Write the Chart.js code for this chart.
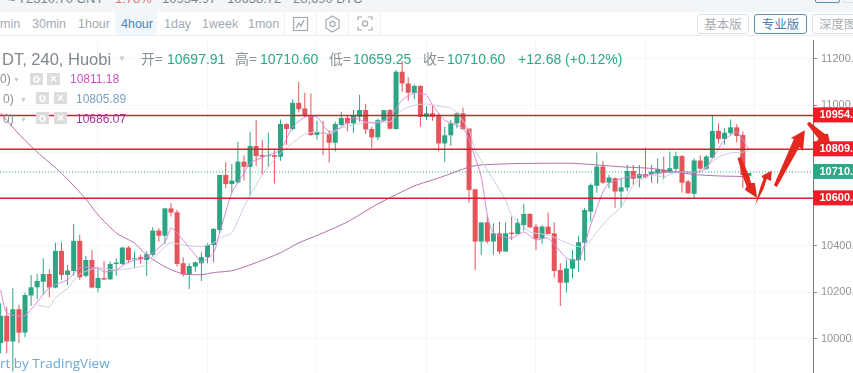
<!DOCTYPE html>
<html>
<head>
<meta charset="utf-8">
<title>BTC/USDT 4hour</title>
<script src="https://cdn.jsdelivr.net/npm/chart.js@4"></script>
<style>
  html, body { margin: 0; padding: 0; background: #fff; overflow: hidden; }
  body { width: 853px; height: 373px; position: relative; font-family: "Liberation Sans", sans-serif; }
  canvas { position: absolute; left: 0; top: 0; }
  .t { position: absolute; white-space: nowrap; line-height: 1; }
  .topStrip { position: absolute; left: 0; top: 0; width: 853px; height: 12px; background: #f2f6f8; overflow: hidden; }
  .toolbar { position: absolute; left: 0; top: 12px; width: 853px; height: 23px; background: #fff; border-bottom: 1px solid #ebedef; }
  .tab { position: absolute; top: 18px; font: 12.5px "Liberation Sans", sans-serif; line-height: 1; color: #a3abb3; white-space: nowrap; }
  .sep { position: absolute; top: 11px; width: 1px; height: 24px; background: #eceef0; }
  .btn { position: absolute; top: 14px; height: 18px; border: 1px solid #dfe2e5; border-radius: 3px; box-sizing: content-box;
    font: 12.5px "Noto Sans CJK SC", sans-serif; line-height: 18px; color: #a9adb2; text-align: center; white-space: nowrap; overflow: hidden; }
  .sq { position: absolute; width: 13px; height: 12px; background: #dcdcdc; color: #fff; font: bold 12px/12px "Liberation Sans", sans-serif; text-align: center; }
  .num { font-size: 14px; color: #2ba886; top: 52px; }
  .lab { font: 14px "Noto Sans CJK SC", sans-serif; line-height: 1; color: #8a9097; top: 51px; }
  .leg { font-size: 12px; top: 0; }
</style>
</head>
<body>
<canvas id="chart" width="853" height="373"></canvas>

<div class="topStrip">
  <div class="t" style="left:8px;top:-8px;font-size:13px;color:#7d858c">≈ 72310.70 CNY</div>
  <div class="t" style="left:115px;top:-8px;font-size:13px;color:#e0777a">1.78%</div>
  <div class="t" style="left:162px;top:-8px;font-size:13px;color:#7d858c">10954.97</div>
  <div class="t" style="left:227px;top:-8px;font-size:13px;color:#7d858c">10638.72</div>
  <div class="t" style="left:293px;top:-8px;font-size:13px;color:#7d858c">28,690 BTC</div>
  <div style="position:absolute;left:815px;top:-6px;width:23px;height:7px;border:1px solid #5a8fb0;border-radius:2px"></div>
  <div style="position:absolute;left:843px;top:-6px;width:20px;height:7px;border:1px solid #dfe2e5;border-radius:2px"></div>
</div>
<div class="toolbar"></div>
<div style="position:absolute;left:115px;top:11px;width:42px;height:24px;background:#f1f6fb"></div>
<div class="tab" style="left:0">min</div>
<div class="tab" style="left:32px">30min</div>
<div class="tab" style="left:78px">1hour</div>
<div class="tab" style="left:121px;color:#4a86bd">4hour</div>
<div class="tab" style="left:164px">1day</div>
<div class="tab" style="left:202px">1week</div>
<div class="tab" style="left:248px">1mon</div>
<div class="sep" style="left:284px"></div>
<div class="sep" style="left:316px"></div>
<div class="sep" style="left:348px"></div>
<div class="sep" style="left:380px"></div>
<svg style="position:absolute;left:290px;top:14px" width="90" height="20" fill="none" stroke="#a4abb2" stroke-width="1.2">
  <rect x="3.5" y="3.5" width="14" height="13"/>
  <path d="M6 14 L9 9 L11 12 L14 6" stroke-width="1.4"/>
  <path d="M42.5 2 L49 6 L49 14 L42.5 18 L36 14 L36 6 Z"/>
  <circle cx="42.5" cy="10" r="2.6"/>
  <path d="M68 6 L68 3 L72 3 M78 3 L82 3 L82 6 M82 13 L82 16 L78 16 M72 16 L68 16 L68 13"/>
  <circle cx="75" cy="9.5" r="2.6"/>
</svg>
<div class="btn" style="left:697px;width:50px">基本版</div>
<div class="btn" style="left:754px;width:51px;border-color:#5a8fb0;color:#4a80b0">专业版</div>
<div class="btn" style="left:812px;width:50px;text-align:left;padding-left:6px;border-right:none">深度图</div>

<div class="t" style="left:2px;top:51px;font-size:16.5px;color:#80878e">DT, 240, Huobi</div>
<div class="t" style="left:118px;top:55px;font-size:8px;color:#c4c8cc">▼</div>
<div class="t lab" style="left:141px">开=</div>
<div class="t num" style="left:167px">10697.91</div>
<div class="t lab" style="left:235px">高=</div>
<div class="t num" style="left:260px">10710.60</div>
<div class="t lab" style="left:329px">低=</div>
<div class="t num" style="left:353px">10659.25</div>
<div class="t lab" style="left:423px">收=</div>
<div class="t num" style="left:447px">10710.60</div>
<div class="t num" style="left:518px">+12.68 (+0.12%)</div>

<div class="t leg" style="left:0;top:73px;color:#8a9097">0)</div>
<div class="t" style="left:13px;top:76px;font-size:7px;color:#c4c8cc">▼</div>
<div class="sq" style="left:30px;top:73px">o</div><div class="sq" style="left:47px;top:73px">×</div>
<div class="t leg" style="left:70px;top:73px;color:#d052c9">10811.18</div>
<div class="t leg" style="left:3px;top:93px;color:#8a9097">0)</div>
<div class="t" style="left:20px;top:96px;font-size:7px;color:#c4c8cc">▼</div>
<div class="sq" style="left:36px;top:92px">o</div><div class="sq" style="left:54px;top:92px">×</div>
<div class="t leg" style="left:76px;top:93px;color:#7b9fc0">10805.89</div>
<div class="t leg" style="left:3px;top:113px;color:#8a9097">0)</div>
<div class="t" style="left:20px;top:116px;font-size:7px;color:#c4c8cc">▼</div>
<div class="sq" style="left:36px;top:112px">o</div><div class="sq" style="left:54px;top:112px">×</div>
<div class="t leg" style="left:76px;top:113px;color:#a0359a">10686.07</div>

<div class="t" style="left:0;top:354px;font:13.5px 'Open Sans', sans-serif;color:#6aa9d8">rt by TradingView</div>

<script>
// candles
const opens = [9982,10099,9989,10127,10027,10186,10221,10245,10278,10220,10377,10274,10291,10420,10270,10338,10218,10260,10255,10321,
  10321,10391,10341,10350,10338,10360,10464,10442,10559,10542,10324,10278,10310,10324,10350,10402,10466,10702,10663,10670,
  10759,10737,10826,10787,10783,10787,10780,10920,10899,11011,10987,10954,10874,10884,10880,10840,10916,10946,10923,10951,
  10980,10899,10863,10934,10980,10899,11144,11094,11054,11083,10951,10966,10959,10837,10872,10923,10966,10901,10641,10417,
  10499,10417,10452,10374,10455,10449,10488,10535,10481,10429,10481,10452,10295,10241,10301,10338,10412,10545,10656,10738,
  10669,10688,10631,10648,10719,10688,10706,10706,10709,10724,10712,10728,10783,10674,10621,10764,10729,10776,10891,10856,
  10881,10906,10873,10697.91];
const closes = [10099,9989,10127,10027,10188,10221,10248,10278,10220,10377,10274,10293,10420,10264,10338,10220,10261,10254,10321,10327,
  10391,10338,10345,10341,10362,10464,10442,10559,10541,10321,10277,10312,10328,10350,10402,10471,10702,10663,10678,10759,
  10737,10826,10783,10780,10787,10780,10920,10899,11011,10984,10954,10873,10886,10880,10840,10920,10946,10923,10959,10980,
  10897,10863,10937,10980,10900,11144,11094,11054,11083,10951,10966,10951,10837,10872,10923,10966,10899,10638,10417,10499,
  10417,10452,10374,10452,10449,10498,10535,10478,10429,10481,10449,10291,10241,10302,10342,10414,10552,10659,10738,10669,
  10691,10631,10649,10719,10686,10706,10692,10716,10726,10712,10731,10783,10669,10624,10764,10729,10781,10891,10856,10883,
  10906,10869,10702,10710.60];
const highs = [10153,10138,10217,10146,10198,10274,10278,10345,10298,10412,10414,10317,10492,10445,10355,10381,10303,10334,10331,10345,
  10395,10398,10374,10360,10374,10478,10474,10559,10581,10552,10350,10324,10331,10371,10410,10474,10702,10755,10749,10844,
  10787,10887,10937,10852,10883,10809,10940,10923,11026,11100,11054,11051,10934,10934,10894,10930,10973,10959,10980,11046,
  11006,10909,10944,10980,10984,11151,11191,11120,11091,11086,10997,10997,10966,10909,10937,10973,10991,10901,10641,10499,
  10531,10495,10502,10498,10524,10516,10578,10538,10492,10488,10541,10498,10324,10341,10381,10442,10562,10666,10798,10762,
  10702,10691,10688,10745,10745,10745,10820,10745,10774,10781,10802,10802,10788,10681,10774,10785,10788,10955,10923,10902,
  10940,10919,10888,10710.60];
const lows = [9939,9939,9860,9982,10007,10141,10170,10188,10178,10217,10253,10231,10270,10253,10264,10217,10200,10253,10253,10270,
  10317,10324,10305,10321,10270,10352,10417,10405,10524,10310,10267,10214,10288,10248,10324,10327,10454,10645,10626,10666,
  10678,10612,10740,10702,10737,10666,10763,10830,10894,10969,10949,10870,10854,10787,10755,10802,10911,10889,10883,10930,
  10877,10819,10852,10930,10897,10897,11058,11020,11026,10909,10937,10934,10802,10759,10826,10902,10894,10583,10295,10360,
  10410,10360,10364,10372,10424,10449,10464,10474,10381,10407,10449,10263,10141,10200,10260,10288,10335,10502,10626,10663,
  10645,10562,10562,10631,10659,10649,10688,10669,10667,10684,10712,10709,10627,10621,10602,10724,10724,10776,10838,10831,
  10873,10841,10645,10659.25];

// moving averages, candle index and value as read
const ma5Index = [0,1,4,8,11,13,16,17,19,21,24,27,28,29,32,33,35,36,38,40,41,44,46,48,50,52,54,56,58,60,62,64,66,68,70,71,73,76,77,79,80,81,84,86,88,90,93,95,97,99,100,103,106,110,113,115,116,119,121,122,123];
const ma5Values = [10210,10112,10100,10220,10253,10304,10304,10287,10295,10329,10351,10415,10475,10454,10359,10329,10368,10454,10625,10710,10753,10787,10809,10907,10950,10950,10886,10907,10946,10929,10924,10950,11023,11053,11044,11001,10937,10903,10852,10693,10531,10454,10432,10458,10424,10432,10347,10338,10488,10629,10667,10693,10702,10715,10715,10715,10732,10852,10886,10852,10811];
const ma10Index = [6,8,9,11,13,16,19,24,27,28,30,33,35,36,38,40,43,46,48,50,52,54,56,59,62,64,66,68,70,73,74,75,77,78,80,83,84,87,90,94,96,98,100,102,104,105,107,109,111,114,116,118,120,122,123];
const ma10Values = [10145,10137,10177,10217,10278,10304,10295,10317,10395,10412,10402,10395,10411,10432,10454,10566,10702,10796,10839,10877,10887,10877,10903,10923,10930,10930,10980,11001,11006,10993,10989,10967,10894,10809,10723,10595,10531,10458,10445,10402,10394,10458,10518,10565,10659,10680,10702,10693,10715,10713,10736,10779,10796,10800,10806];
const ma30Index = [0,3,6,10,14,16,19,22,24,27,30,33,35,38,41,44,46,49,53,57,62,68,72,77,79,85,90,94,98,102,107,110,114,118,123];
const ma30Values = [10967,10877,10800,10710,10599,10531,10454,10410,10359,10309,10278,10275,10284,10292,10317,10347,10369,10411,10454,10501,10578,10655,10689,10736,10745,10751,10752,10752,10745,10737,10730,10719,10704,10698,10695];

// levels marked on the picture, and their tags on the axis
const resistHigh = 10957;
const resistLow = 10812;
const lastPrice = 10715;
const supportLevel = 10602;
const tagValues = [resistHigh, resistLow, lastPrice, supportLevel];
const tagTexts = ['10954.', '10809.', '10710.', '10600.'];
const tagColors = ['#ee1c25', '#ee1c25', '#2ba886', '#ee1c25'];

// hand drawn arrows, as candle index and price
const arrowOneIndex = [121.13,121.7,123.1,123.35,124,124.35,122.36,122.6,122.03];
const arrowOnePrice = [10775,10779,10693,10668,10668,10603,10638,10655,10693];
const arrowTwoIndex = [124.05,124.95,125.4,125.07,126.75,126.64,125.93,125.4];
const arrowTwoPrice = [10573,10655,10685,10698,10720,10676,10685,10642];
const arrowThreeIndex = [127.1,130.4,129.9,132.2,131.9,131.3,127.6];
const arrowThreePrice = [10658,10856,10860,10894,10805,10822,10650];
const arrowFourIndex = [132.9,135.5,136,136.3,134.03,134.45,132.55];
const arrowFourPrice = [10930,10877,10879,10843,10843,10856,10920];

const priceTicks = [10000,10200,10400,10600,10800,11000,11200];
const gridIndex = [7,25,43,61,79,97,115,133];

const UP = '#2ba583';
const DOWN = '#e4555b';
const LINE_RED = '#d4202f';
const xMin = -0.11;
const xMax = 133.54;

const candleColors = opens.map(function (o, i) { return closes[i] >= o ? UP : DOWN; });

function pairs(index, values) {
  return index.map(function (x, i) { return { x: x, y: values[i] }; });
}
function level(value) {
  return [{ x: xMin, y: value }, { x: xMax, y: value }];
}
function maLine(index, values, color, order) {
  return { type: 'line', data: pairs(index, values), borderColor: color, borderWidth: 1, pointRadius: 0, tension: 0.2, order: order };
}
function levelLine(value, color, width, dash, order) {
  return { type: 'line', data: level(value), borderColor: color, borderWidth: width, borderDash: dash, pointRadius: 0, order: order };
}

const overlay = {
  id: 'overlay',
  afterDatasetsDraw(chart) {
    const ctx = chart.ctx;
    const x = chart.scales.x;
    const y = chart.scales.y;
    ctx.save();
    // price tags on the axis
    tagValues.forEach(function (value, i) {
      const py = y.getPixelForValue(value);
      ctx.fillStyle = tagColors[i];
      ctx.fillRect(813, py - 8, 40, 15);
      ctx.fillStyle = '#fff';
      ctx.font = 'bold 11px "Liberation Sans", sans-serif';
      ctx.textBaseline = 'middle';
      ctx.fillText(tagTexts[i], 819.5, py);
    });
    // arrows on top
    const arrows = [[arrowOneIndex, arrowOnePrice], [arrowTwoIndex, arrowTwoPrice], [arrowThreeIndex, arrowThreePrice], [arrowFourIndex, arrowFourPrice]];
    ctx.fillStyle = '#e5281f';
    arrows.forEach(function (a) {
      ctx.beginPath();
      a[0].forEach(function (ix, i) {
        const px = x.getPixelForValue(ix);
        const py = y.getPixelForValue(a[1][i]);
        if (i === 0) ctx.moveTo(px, py); else ctx.lineTo(px, py);
      });
      ctx.closePath();
      ctx.fill();
    });
    ctx.restore();
  }
};

new Chart(document.getElementById('chart'), {
  type: 'bar',
  data: {
    datasets: [
      { data: highs.map(function (h, i) { return { x: i, y: [lows[i], h] }; }), backgroundColor: candleColors, barThickness: 1, grouped: false, order: 6, inflateAmount: 0 },
      { data: opens.map(function (o, i) { return { x: i, y: [o, closes[i]] }; }), backgroundColor: candleColors, barThickness: 5, grouped: false, order: 5, inflateAmount: 0 },
      maLine(ma30Index, ma30Values, '#b06ea8', 4),
      maLine(ma10Index, ma10Values, '#cfcbe2', 3),
      maLine(ma5Index, ma5Values, '#d88ada', 2),
      levelLine(lastPrice, '#2ba886', 1, [1, 2], 1),
      levelLine(resistHigh, LINE_RED, 1.5, [], 0),
      levelLine(resistLow, LINE_RED, 1.5, [], 0),
      levelLine(supportLevel, LINE_RED, 1.5, [], 0)
    ]
  },
  options: {
    responsive: false,
    animation: false,
    layout: { padding: { top: 40 } },
    plugins: { legend: { display: false }, tooltip: { enabled: false } },
    scales: {
      x: {
        type: 'linear',
        min: xMin,
        max: xMax,
        offset: false,
        afterBuildTicks: function (scale) { scale.ticks = gridIndex.map(function (v) { return { value: v }; }); },
        afterFit: function (scale) { scale.height = 0; scale.paddingLeft = 0; scale.paddingRight = 0; },
        ticks: { display: false },
        grid: { color: '#f5f6f6', drawTicks: false },
        border: { display: false }
      },
      y: {
        position: 'right',
        min: 9854,
        max: 11280,
        afterBuildTicks: function (scale) { scale.ticks = priceTicks.map(function (v) { return { value: v }; }); },
        // no room kept for half a label above and below, the axis runs to the window edge
        afterFit: function (scale) { scale.width = 40; scale.paddingTop = 0; scale.paddingBottom = 0; },
        ticks: {
          color: '#8f9499',
          font: { family: '"Liberation Sans", sans-serif', size: 11 },
          padding: 4,
          callback: function (v) { return v + '.'; }
        },
        grid: { color: '#f5f6f6', tickColor: '#8a8f94', tickLength: 4 },
        border: { color: '#75797d', width: 1 }
      }
    }
  },
  plugins: [overlay]
});
</script>
</body>
</html>
